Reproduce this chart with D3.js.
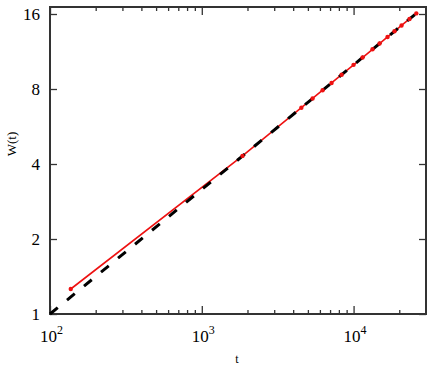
<!DOCTYPE html>
<html>
<head>
<meta charset="utf-8">
<script src="https://cdn.jsdelivr.net/npm/d3@7"></script>
<style>
  body { margin: 0; background: #fff; }
  svg { display: block; }
  text { font-family: "Liberation Serif", "Times New Roman", Times, serif; }
</style>
</head>
<body>
<svg id="chart" width="432" height="365"></svg>
<script>
// data
var simT = [137, 1854, 4530, 5370, 6250, 7160, 8340, 10000, 11460, 13330, 14830, 16740, 18600, 20700, 23360, 25900];
var simW = [1.26, 4.31, 6.73, 7.33, 7.91, 8.46, 9.13, 10.0, 10.7, 11.55, 12.18, 12.94, 13.64, 14.39, 15.28, 16.09];
// dashed guide line, endpoints
var fitT = [100, 25900];
var fitW = [1, 16.09];
var yTicks = [1, 2, 4, 8, 16];
var xMajor = [100, 1000, 10000];
var xLabelExp = ["2", "3", "4"];

function main() {
    var svg = d3.select("#chart");
    var pLeft = 50, pRight = 426, pTop = 7, pBottom = 314;

    var x = d3.scaleLog().domain([100, 30000]).range([pLeft, pRight]);
    var y = d3.scaleLog().base(2).domain([1, 16 * Math.pow(2, 7 / 75)]).range([pBottom, pTop]);

    var xMinor = [];
    [100, 1000, 10000].forEach(function (d) {
        for (var k = 2; k <= 9; k++) {
            if (d * k < 30000) xMinor.push(d * k);
        }
    });

    // tick marks, pointing inward
    function styleAxis(g) {
        g.select(".domain").remove();
        g.selectAll(".tick line").attr("stroke", "#333").attr("stroke-width", 1.3);
    }
    svg.append("g").attr("transform", "translate(0," + pBottom + ")")
        .call(d3.axisBottom(x).tickValues(xMajor).tickSize(-8).tickFormat("")).call(styleAxis);
    svg.append("g").attr("transform", "translate(0," + pBottom + ")")
        .call(d3.axisBottom(x).tickValues(xMinor).tickSize(-4).tickFormat("")).call(styleAxis);
    svg.append("g").attr("transform", "translate(0," + pTop + ")")
        .call(d3.axisTop(x).tickValues(xMajor).tickSize(-8).tickFormat("")).call(styleAxis);
    svg.append("g").attr("transform", "translate(0," + pTop + ")")
        .call(d3.axisTop(x).tickValues(xMinor).tickSize(-4).tickFormat("")).call(styleAxis);
    svg.append("g").attr("transform", "translate(" + pLeft + ",0)")
        .call(d3.axisLeft(y).tickValues(yTicks).tickSize(-7).tickFormat("")).call(styleAxis);
    svg.append("g").attr("transform", "translate(" + pRight + ",0)")
        .call(d3.axisRight(y).tickValues(yTicks).tickSize(-7).tickFormat("")).call(styleAxis);

    // frame
    svg.append("rect")
        .attr("x", pLeft).attr("y", pTop)
        .attr("width", pRight - pLeft).attr("height", pBottom - pTop)
        .attr("fill", "none").attr("stroke", "#333").attr("stroke-width", 2);

    // y labels
    svg.selectAll(".ylab").data(yTicks).enter().append("text")
        .attr("class", "ylab")
        .attr("x", 40)
        .attr("y", function (d) { return y(d); })
        .attr("dy", "0.35em")
        .attr("text-anchor", "end")
        .attr("font-size", 17)
        .text(function (d) { return d; });

    // x labels 10^n
    var xl = svg.selectAll(".xlab").data(xMajor).enter().append("text")
        .attr("class", "xlab")
        .attr("x", function (d) { return x(d) - 10; })
        .attr("y", 342)
        .attr("font-size", 17);
    xl.append("tspan").text("10");
    xl.append("tspan").attr("dy", -8).attr("font-size", 12)
        .text(function (d, i) { return xLabelExp[i]; });

    // axis titles
    svg.append("text")
        .attr("x", 237).attr("y", 363)
        .attr("text-anchor", "middle")
        .attr("font-size", 12)
        .text("t");
    svg.append("text")
        .attr("transform", "translate(16,144) rotate(-90)")
        .attr("text-anchor", "middle")
        .attr("font-size", 13)
        .text("W(t)");

    var plot = svg.append("g");

    // simulation line
    var simLine = d3.line()
        .x(function (d, i) { return x(simT[i]); })
        .y(function (d, i) { return y(simW[i]); });
    plot.append("path")
        .datum(simT)
        .attr("d", simLine)
        .attr("fill", "none")
        .attr("stroke", "#ee1111")
        .attr("stroke-width", 1.6);

    // dashed guide
    var fitLine = d3.line()
        .x(function (d, i) { return x(fitT[i]); })
        .y(function (d, i) { return y(fitW[i]); });
    plot.append("path")
        .datum(fitT)
        .attr("d", fitLine)
        .attr("fill", "none")
        .attr("stroke", "#000")
        .attr("stroke-width", 3)
        .attr("stroke-dasharray", "10,12");

    plot.selectAll(".pt").data(simT).enter().append("circle")
        .attr("class", "pt")
        .attr("cx", function (d) { return x(d); })
        .attr("cy", function (d, i) { return y(simW[i]); })
        .attr("r", 2.2)
        .attr("fill", "#ee1111");
}
main();
</script>
</body>
</html>
